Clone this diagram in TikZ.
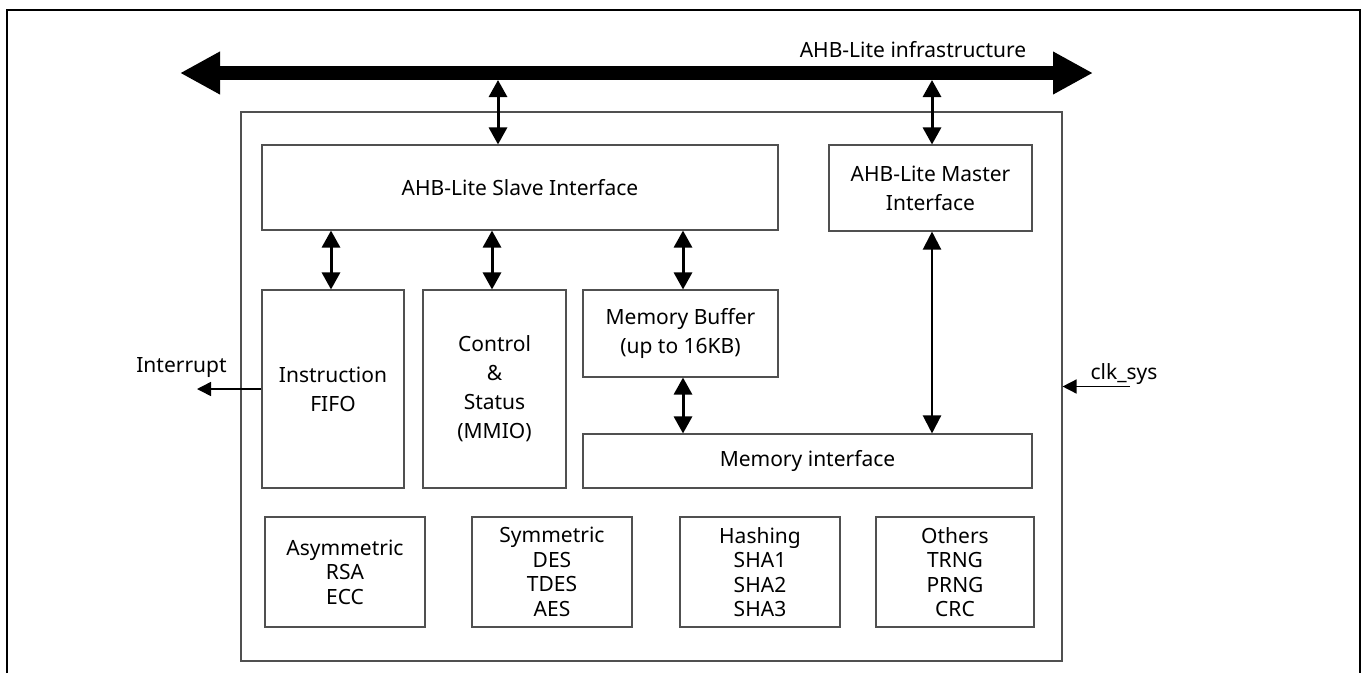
\documentclass[tikz,border=0pt]{standalone}
\usepackage{fontspec}
\setmainfont{Noto Sans}
\usetikzlibrary{arrows.meta}
\definecolor{boxgray}{RGB}{80,80,80}
\begin{document}
\begin{tikzpicture}[x=1pt,y=-1pt,
  box/.style={draw=boxgray, line width=1.1pt, inner sep=0pt, align=center, font=\fontsize{21}{29}\selectfont},
  cbox/.style={box, font=\fontsize{21}{24.5}\selectfont},
  dbl/.style={line width=3pt, {Triangle[width=18pt,length=17pt]}-{Triangle[width=18pt,length=17pt]}},
  sgl/.style={line width=1.5pt, -{Triangle[width=14pt,length=14pt]}},
  lbl/.style={inner sep=0pt, font=\fontsize{21}{25}\selectfont}
]
\useasboundingbox (0,0) rectangle (1367,673);
% outer frame
\draw[line width=2pt] (7,673) -- (7,10) -- (1360,10) -- (1360,673);
% bus
\coordinate (busL) at (180,73);
\coordinate (busR) at (1093,73);
\draw[line width=14pt, {Triangle[width=40pt,length=40pt]}-{Triangle[width=40pt,length=40pt]}] (busL) -- (busR);
\node[lbl, anchor=base] (buslbl) at (913,57) {AHB-Lite infrastructure};
% chip
\node[box, minimum width=821pt, minimum height=549pt] (chip) at (651.5,386.5) {};
% blocks
\node[box, minimum width=516pt, minimum height=85pt] (slave) at (520,187.5) {AHB-Lite Slave Interface};
\node[box, minimum width=203pt, minimum height=86pt] (master) at (930.5,188) {AHB-Lite Master\\Interface};
\node[box, minimum width=142pt, minimum height=198pt] (fifo) at (333,389) {Instruction\\FIFO};
\node[box, minimum width=143pt, minimum height=198pt] (ctrl) at (494.5,389) {Control\\\&\\Status\\(MMIO)};
\node[box, minimum width=195pt, minimum height=87pt] (membuf) at (680.5,333.5) {Memory Buffer\\(up to 16KB)};
\node[box, minimum width=449pt, minimum height=54pt] (memif) at (807.5,461) {Memory interface};
\node[cbox, minimum width=160pt, minimum height=110pt] (asym) at (345,572) {Asymmetric\\RSA\\ECC};
\node[cbox, minimum width=160pt, minimum height=110pt] (sym) at (552,572) {Symmetric\\DES\\TDES\\AES};
\node[cbox, minimum width=160pt, minimum height=110pt] (hash) at (760,572) {Hashing\\SHA1\\SHA2\\SHA3};
\node[cbox, minimum width=158pt, minimum height=110pt] (oth) at (955,572) {Others\\TRNG\\PRNG\\CRC};
% connector x positions
\coordinate (xs) at (498,80);
\coordinate (xm) at (932,80);
\coordinate (xf) at (331,0);
\coordinate (xc) at (492,0);
\coordinate (xb) at (683,0);
\draw[dbl] (xs) -- (slave.north -| xs);
\draw[dbl] (xm) -- (master.north -| xm);
\draw[dbl] (slave.south -| xf) -- (fifo.north -| xf);
\draw[dbl] (slave.south -| xc) -- (ctrl.north -| xc);
\draw[dbl] (slave.south -| xb) -- (membuf.north -| xb);
\draw[dbl] (membuf.south -| xb) -- (memif.north -| xb);
\draw[line width=2.2pt, {Triangle[width=18pt,length=18pt]}-{Triangle[width=18pt,length=18pt]}] (master.south -| xm) -- (memif.north -| xm);
% interrupt
\coordinate (intend) at (197,389);
\draw[sgl] (fifo.west) -- (intend);
\node[lbl, anchor=base] (intlbl) at (181.5,372) {Interrupt};
% clk_sys
\coordinate (clkstart) at (1130,386.5);
\draw[sgl] (clkstart) -- (chip.east);
\node[lbl, anchor=base] (clklbl) at (1124,379) {clk\_sys};
\end{tikzpicture}
\end{document}
